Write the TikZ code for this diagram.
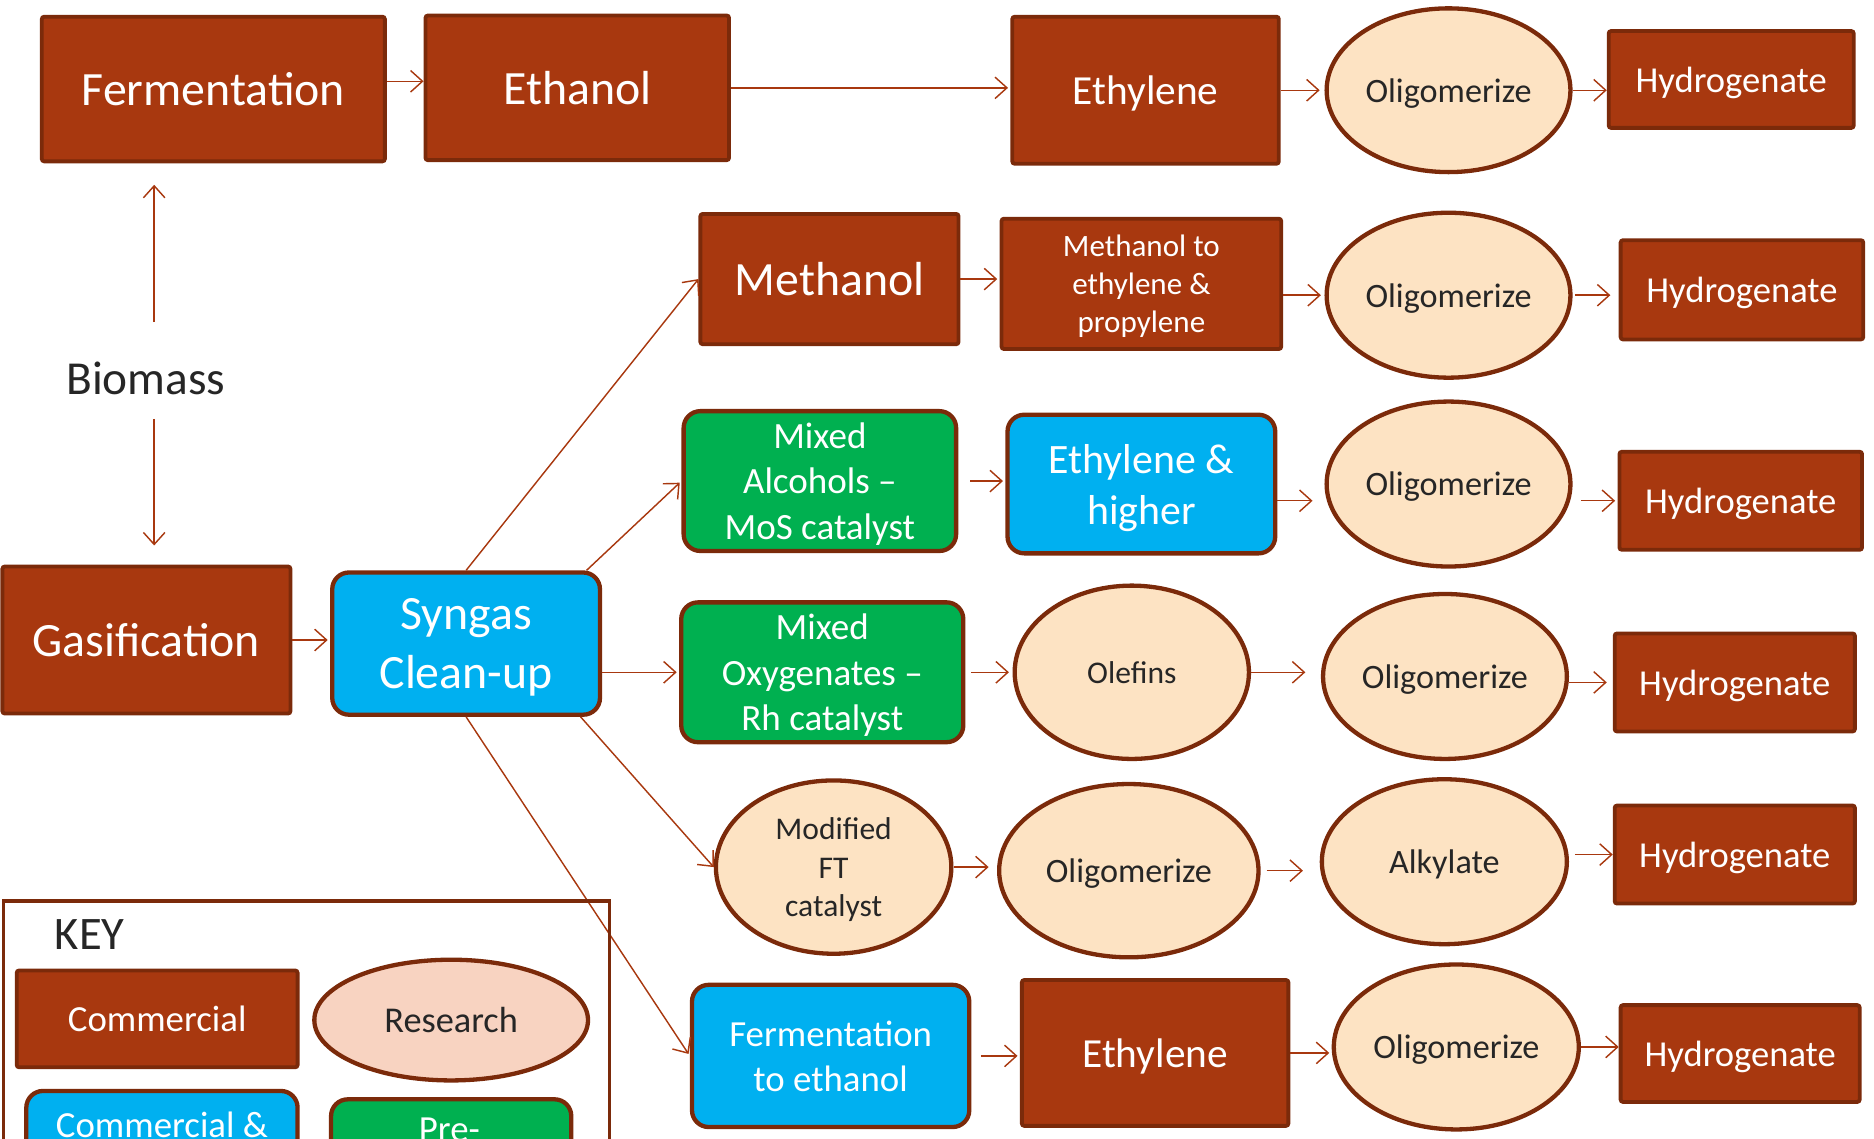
\documentclass[tikz,border=0pt]{standalone}
\usepackage{fontspec}
\setmainfont{Carlito}
\usetikzlibrary{shapes.geometric,arrows.meta}
\definecolor{rust}{HTML}{A8380F}
\definecolor{rustdk}{HTML}{7B2A0A}
\definecolor{peach}{HTML}{FDE3C3}
\definecolor{rosy}{HTML}{F8D3C1}
\definecolor{sky}{HTML}{00B0F0}
\definecolor{leaf}{HTML}{00B050}
\definecolor{ink}{HTML}{262626}
\newcommand\fsz[1]{\fontsize{#1}{\fpeval{1.22*#1}}\selectfont}
\begin{document}
\begin{tikzpicture}[x=0.5pt, y=-0.5pt, >={Straight Barb[length=5pt,width=9pt]},
	sz/.style 2 args={minimum width=#1*0.5pt, minimum height=#2*0.5pt},
	com/.style={draw=rustdk, fill=rust, line width=1.6pt, text=white, rounded corners=1pt, align=center, inner sep=0pt, text depth=0pt},
	res/.style={ellipse, draw=rustdk, fill=peach, line width=1.8pt, text=ink, align=center, inner sep=0pt, text depth=0pt},
	dev/.style={draw=rustdk, fill=sky, line width=1.8pt, rounded corners=7pt, text=white, align=center, inner sep=0pt, text depth=0pt},
	pil/.style={dev, fill=leaf},
	arr/.style={->, draw=rust, line width=0.6pt}]
	\useasboundingbox (0,0) rectangle (1568,953);
	\clip (0,0) rectangle (1568,953);
	
	% top row
	\node[com, sz={287}{121}, font=\fsz{20}] (fer) at (178.5,74.5) {Fermentation};
	\node[com, sz={254}{121}, font=\fsz{20}] (eth) at (483,73.5) {Ethanol};
	\node[com, sz={223}{123}, font=\fsz{17.3}] (ety1) at (958.5,75.5) {Ethylene};
	
	% left column
	\node[text=ink, font=\fsz{19.8}, minimum height=33pt] (bio) at (122,317) {Biomass};
	\node[com, sz={241}{123}, font=\fsz{20}] (gas) at (122.5,535.5) {Gasification};
	\node[dev, sz={224}{119}, font=\fsz{20}] (syn) at (390,538.5) {Syngas\\Clean-up};
	
	% middle columns
	\node[com, sz={216}{109}, font=\fsz{20}] (met) at (694,233.5) {Methanol};
	\node[com, sz={234}{109}, font=\fsz{13}] (mtp) at (955,237.5) {Methanol to\\ethylene \&\\propylene};
	\node[pil, sz={228}{117}, font=\fsz{15.5}] (mal) at (686,402.5) {Mixed\\Alcohols –\\MoS catalyst};
	\node[dev, sz={224}{116}, font=\fsz{17.5}] (eah) at (955,405) {Ethylene \&\\higher};
	\node[pil, sz={236}{117}, font=\fsz{15.5}] (mox) at (688,562.5) {Mixed\\Oxygenates –\\Rh catalyst};
	\node[res, sz={196}{145}, font=\fsz{13.2}] (ole) at (947,562.5) {Olefins};
	\node[res, sz={197}{145}, font=\fsz{13.2}] (mft) at (697.5,725.5) {Modified\\FT\\catalyst};
	\node[res, sz={217}{145}, font=\fsz{14.3}] (oli5) at (944.5,728.5) {Oligomerize};
	\node[res, sz={205}{138}, font=\fsz{14.3}] (alk) at (1208.5,721) {Alkylate};
	\node[dev, sz={232}{119}, font=\fsz{15.4}] (fte) at (695,883.5) {Fermentation\\to ethanol};
	\node[com, sz={223}{122}, font=\fsz{17.3}] (ety2) at (966.5,881) {Ethylene};
	
	% right columns
	\foreach \n/\x/\y/\w/\h in {1/1212/75.5/204/137, 2/1212/247/204/138, 3/1212/405/204/138, 4/1209/566/204/138, 6/1218.5/876/205/138}
	\node[res, sz={\w}{\h}, font=\fsz{14.3}] (oli\n) at (\x,\y) {Oligomerize};
	\foreach \n/\x/\y/\w/\h in {1/1448.5/66.5/205/81, 2/1457.5/242.5/203/83, 3/1456.5/419/203/82, 4/1451.5/571/201/82, 5/1451.5/715/201/82, 6/1456/881.5/200/81}
	\node[com, sz={\w}{\h}, font=\fsz{15.3}] (hyd\n) at (\x,\y) {Hydrogenate};
	
	% arrows
	\draw[arr] ([yshift=3.25pt]fer.east) -- ([yshift=3.25pt]fer.east -| eth.west);
	\draw[arr, shorten >=1pt] (eth.east) -- (eth.east -| ety1.west);
	\draw[arr, shorten >=2pt] (ety1.east) -- (ety1.east -| oli1.west);
	\draw[arr] (oli1.east) -- (oli1.east -| hyd1.west);
	\draw[arr, shorten <=7pt, shorten >=9pt] ([xshift=3.5pt]bio.north) -- ([xshift=3.5pt]bio.north |- fer.south);
	\draw[arr, shorten >=8pt] ([xshift=3.5pt]bio.south) -- ([xshift=3.5pt]bio.south |- gas.north);
	\draw[arr, shorten >=1pt] (gas.east) -- (gas.east -| syn.west);
	\draw[arr] (syn.north) -- (met.west);
	\draw[arr, shorten >=1pt] ([xshift=-6.5pt]syn.north east) -- (mal.west);
	\draw[arr, shorten >=1pt] (mox.west -| syn.east) -- (mox.west);
	\draw[arr] ([xshift=-9pt]syn.south east) -- (mft.west);
	\draw[arr, shorten >=1pt] (syn.south) -- (fte.west);
	\draw[arr, shorten >=1pt] (met.east) -- (met.east -| mtp.west);
	\draw[arr, shorten >=1.5pt] (oli2.west -| mtp.east) -- (oli2.west);
	\draw[arr, shorten <=1pt, shorten >=3.5pt] (oli2.east) -- (oli2.east -| hyd2.west);
	\draw[arr, shorten <=5pt, shorten >=1pt] (mal.east) -- (mal.east -| eah.west);
	\draw[arr, shorten >=5pt] ([yshift=-7pt]eah.east) -- ([yshift=-7pt]eah.east -| oli3.west);
	\draw[arr, shorten <=3.5pt, shorten >=1pt] (hyd3.west -| oli3.east) -- (hyd3.west);
	\draw[arr, shorten <=2.5pt, shorten >=1.5pt] (mox.east) -- (mox.east -| ole.west);
	\draw[arr, shorten >=6.5pt] (ole.east) -- (ole.east -| oli4.west);
	\draw[arr, shorten >=2.5pt] (hyd4.west -| oli4.east) -- (hyd4.west);
	\draw[arr, shorten >=3.5pt] (mft.east) -- (mft.east -| oli5.west);
	\draw[arr, shorten <=2.5pt, shorten >=7pt] (oli5.east) -- (oli5.east -| alk.west);
	\draw[arr, shorten <=2.5pt] (hyd5.west -| alk.east) -- (hyd5.west);
	\draw[arr, shorten <=4pt, shorten >=1pt] (fte.east) -- (fte.east -| ety2.west);
	\draw[arr, shorten >=1pt] (ety2.east) -- (ety2.east -| oli6.west);
	\draw[arr] (oli6.east) -- (oli6.east -| hyd6.west);
	
	% key
	\draw[draw=rustdk, line width=1.6pt] (3,754) rectangle (510,1010);
	\node[text=ink, font=\fsz{19.5}] (keyt) at (75,782) {KEY};
	\node[com, sz={235}{81}, font=\fsz{15.4}] (kcom) at (131.5,852.5) {Commercial};
	\node[res, fill=rosy, sz={229}{101}, font=\fsz{15.2}] (kres) at (377.5,853.5) {Research};
	\node[dev, sz={227}{100}, anchor=north] (kdev) at (135.5,911) {};
	\node[text=white, font=\fsz{15.4}] (kdevt) at (135.5,941) {Commercial \&};
	\node[pil, sz={201}{100}, anchor=north] (kpil) at (377.5,918) {};
	\node[text=white, font=\fsz{15.4}] (kpilt) at (376,945) {Pre-};
\end{tikzpicture}
\end{document}
